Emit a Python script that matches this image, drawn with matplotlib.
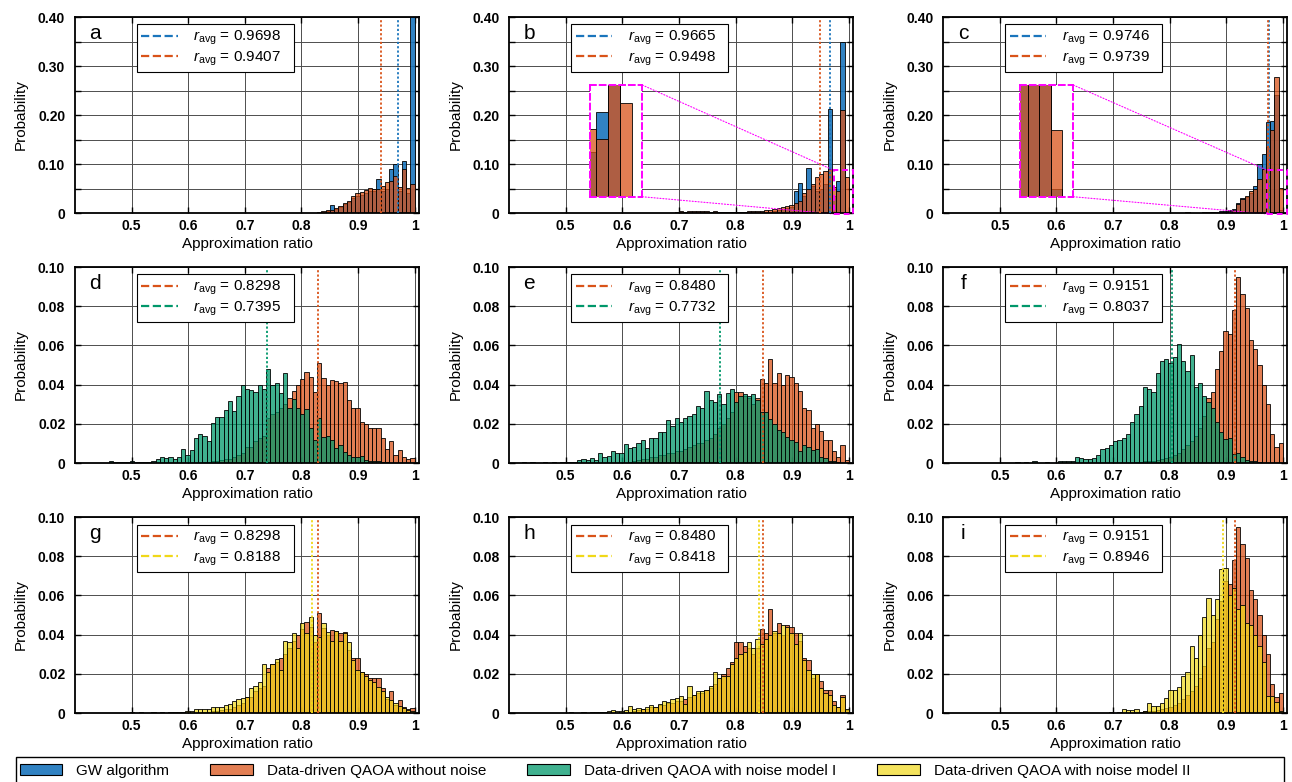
import numpy as np
import matplotlib
matplotlib.use("Agg")
import matplotlib.pyplot as plt
from matplotlib.colors import to_rgba
from matplotlib.lines import Line2D
from matplotlib.patches import Patch, Rectangle, ConnectionPatch
from matplotlib.ticker import FuncFormatter

plt.rcParams["font.family"] = ["Liberation Sans", "DejaVu Sans"]
plt.rcParams["mathtext.fontset"] = "custom"
plt.rcParams["mathtext.rm"] = "Liberation Sans"
plt.rcParams["mathtext.it"] = "Liberation Sans:italic"
plt.rcParams["mathtext.bf"] = "Liberation Sans:bold"

# 80 bins of width 0.0075 on [0.4, 1.0]
bin_edges = np.linspace(0.4, 1.0, 81)
bin_w = bin_edges[1] - bin_edges[0]

# ---- probabilities per bin ----
# a: GW vs noiseless QAOA
gw_a = [0] * 56 + [0.0005, 0.001, 0.002, 0.004, 0.017, 0.008, 0.012, 0.018, 0.022, 0.03,
                   0.034, 0.036, 0.04, 0.045, 0.045, 0.069, 0.045, 0.05, 0.09, 0.10,
                   0.045, 0.107, 0.04, 0.45]
qaoa_a = [0] * 55 + [0.0007, 0.001, 0.002, 0.004, 0.006, 0.007, 0.01, 0.014, 0.021, 0.025,
                     0.035, 0.040, 0.042, 0.048, 0.051, 0.050, 0.050, 0.055, 0.063, 0.065,
                     0.0755, 0.053, 0.09, 0.052, 0.06]
# b
gw_b = [0] * 40 + [0.002, 0.002, 0.003, 0.003, 0.002, 0.003, 0.003, 0.002, 0.003, 0.002,
                   0.002, 0.002, 0.002, 0.002, 0.002, 0.002, 0.003, 0.003, 0.003, 0.003,
                   0.002, 0.003, 0.004, 0.006, 0.008, 0.01, 0.012, 0.045, 0.062, 0.035,
                   0.092, 0.055, 0.045, 0.05, 0.06, 0.213, 0.035, 0.066, 0.35, 0.0]
qaoa_b = [0] * 39 + [0.002, 0.004, 0.003, 0.004, 0.005, 0.004, 0.005, 0.004, 0.003, 0.004,
                     0.003, 0.002, 0.003, 0.003, 0.002, 0.003, 0.003, 0.004, 0.004, 0.005,
                     0.005, 0.006, 0.007, 0.008, 0.01, 0.012, 0.014, 0.016, 0.02, 0.025,
                     0.04, 0.05, 0.06, 0.073, 0.08, 0.086, 0.09, 0.053, 0.045, 0.21,
                     0.073]
# c
gw_c = [0] * 60 + [0.001, 0.0, 0.0, 0.002, 0.0, 0.004, 0.004, 0.006, 0.008, 0.02,
                   0.03, 0.033, 0.04, 0.055, 0.10, 0.12, 0.185, 0.187, 0.24, 0.006]
qaoa_c = [0] * 49 + [0.0008, 0, 0, 0, 0, 0, 0, 0, 0.002, 0, 0, 0,
                     0.002, 0.002, 0.003, 0.002, 0.003, 0.003, 0.005, 0.007, 0.018, 0.028,
                     0.035, 0.045, 0.05, 0.07, 0.09, 0.135, 0.17, 0.278, 0.052]

# noiseless data-driven QAOA (shared by rows 2 and 3)
noiseless_1 = [0] * 30 + [0.0005, 0.0005, 0.001, 0.001, 0.0015, 0.002, 0.002, 0.003,
                          0.004, 0.005, 0.008, 0.008, 0.011, 0.013, 0.014, 0.023, 0.025, 0.026,
                          0.028, 0.030, 0.033, 0.037, 0.040, 0.0427, 0.0466, 0.044, 0.036, 0.0508,
                          0.0435, 0.040, 0.0423, 0.042, 0.041, 0.0415, 0.032, 0.028, 0.028, 0.021,
                          0.020, 0.018, 0.018, 0.018, 0.0126, 0.007, 0.011, 0.004, 0.0066, 0.003,
                          0.002, 0.0024]
noiseless_2 = [0] * 28 + [0.0005, 0.001, 0.0015, 0.002, 0.002, 0.003, 0.003, 0.004, 0.004, 0.005,
                          0.005, 0.006, 0.006, 0.007, 0.008, 0.009, 0.01, 0.01, 0.012, 0.013,
                          0.015, 0.018, 0.02, 0.023, 0.026, 0.036, 0.036, 0.034, 0.033, 0.03,
                          0.033, 0.043, 0.041, 0.053, 0.041, 0.046, 0.040, 0.045, 0.044, 0.041,
                          0.037, 0.028, 0.027, 0.018, 0.020, 0.0165, 0.012, 0.012, 0.006, 0.003,
                          0.009, 0.0015]
noiseless_3 = [0] * 45 + [0.0003, 0.0005, 0.0008, 0.001, 0.0012, 0.0015, 0.002, 0.0025, 0.003, 0.004,
                          0.005, 0.007, 0.009, 0.011, 0.014, 0.018, 0.024, 0.033, 0.036, 0.048,
                          0.057, 0.0675, 0.066, 0.078, 0.095, 0.086, 0.079, 0.063, 0.058, 0.050,
                          0.040, 0.030, 0.015, 0.008, 0.010]

# noise model I
noise1_d = [0] * 8 + [0.001, 0.0003, 0.0005, 0.0003, 0.0005, 0.0012, 0.0005, 0.0005, 0.0005, 0.0005,
                      0.001, 0.002, 0.003, 0.0025, 0.003, 0.002, 0.003, 0.007, 0.004, 0.0066,
                      0.013, 0.0146, 0.0138, 0.011, 0.0206, 0.0233, 0.0233, 0.027, 0.0318, 0.0267,
                      0.034, 0.0398, 0.0376, 0.0372, 0.036, 0.040, 0.038, 0.048, 0.0398, 0.0406,
                      0.0355, 0.0457, 0.028, 0.0325, 0.028, 0.025, 0.0275, 0.018, 0.0117, 0.0228,
                      0.0134, 0.0138, 0.0117, 0.0075, 0.009, 0.0058, 0.004, 0.003, 0.003, 0.0035,
                      0.0015, 0.0012, 0.001, 0.0008, 0.0005, 0.0003, 0, 0, 0, 0, 0, 0]
noise1_e = [0] * 3 + [0.0003, 0, 0.0003, 0, 0, 0.0003, 0,
                      0.0003, 0, 0.0003, 0.0005, 0.0003, 0.0005, 0.0015, 0.002, 0.0015, 0.0025,
                      0.0015, 0.005, 0.003, 0.0035, 0.006, 0.005, 0.005, 0.0095, 0.0075, 0.008,
                      0.01, 0.012, 0.0075, 0.013, 0.013, 0.016, 0.016, 0.022, 0.019, 0.023,
                      0.021, 0.023, 0.024, 0.025, 0.029, 0.028, 0.037, 0.032, 0.031, 0.035,
                      0.030, 0.0355, 0.038, 0.031, 0.034, 0.035, 0.034, 0.035, 0.032, 0.026,
                      0.026, 0.0225, 0.02, 0.017, 0.016, 0.0135, 0.012, 0.0105, 0.006, 0.009,
                      0.008, 0.0065, 0.007, 0.003, 0.0025, 0.0012, 0.001, 0.0005, 0, 0]
noise1_f = [0] * 17 + [0.0003, 0, 0.0003, 0, 0.001, 0, 0, 0.0005, 0, 0,
                       0.0008, 0.0008, 0.001, 0.0012, 0.003, 0.0025, 0.002, 0.002, 0.0025, 0.004,
                       0.007, 0.0075, 0.009, 0.011, 0.012, 0.013, 0.015, 0.021, 0.025, 0.029,
                       0.039, 0.038, 0.036, 0.046, 0.052, 0.053, 0.051, 0.054, 0.0605, 0.052,
                       0.047, 0.055, 0.039, 0.041, 0.034, 0.031, 0.028, 0.021, 0.016, 0.0125,
                       0.013, 0.0045, 0.005, 0.003, 0.0015, 0.001, 0.0012, 0.0003, 0, 0,
                       0, 0, 0]

# noise model II
noise2_g = [0] * 13 + [0.0005, 0, 0.0003, 0, 0, 0.0005, 0.0002, 0.0005, 0.0002, 0.0005,
                       0.0003, 0.0003, 0.0005, 0.0008, 0.001, 0.002, 0.002, 0.002, 0.002, 0.003,
                       0.003, 0.003, 0.004, 0.0045, 0.006, 0.0073, 0.0078, 0.0083, 0.0126, 0.014,
                       0.016, 0.025, 0.021, 0.025, 0.0274, 0.022, 0.037, 0.036, 0.0406, 0.033,
                       0.046, 0.041, 0.049, 0.040, 0.039, 0.046, 0.0415, 0.037, 0.042, 0.037,
                       0.041, 0.036, 0.027, 0.022, 0.021, 0.019, 0.017, 0.016, 0.0134, 0.011,
                       0.0083, 0.0066, 0.005, 0.0036, 0.0024, 0.0015, 0.0012]
noise2_h = [0] * 14 + [0.0005, 0, 0, 0.0003, 0, 0.0005, 0.0003, 0.0005, 0.0003, 0.001,
                       0.0015, 0.001, 0.001, 0.0015, 0.0035, 0.002, 0.0025, 0.002, 0.003, 0.004,
                       0.003, 0.0045, 0.006, 0.0055, 0.007, 0.0075, 0.0085, 0.0045, 0.014, 0.009,
                       0.011, 0.011, 0.012, 0.014, 0.021, 0.018, 0.019, 0.019, 0.025, 0.028,
                       0.030, 0.031, 0.036, 0.033, 0.038, 0.035, 0.038, 0.040, 0.042, 0.041,
                       0.045, 0.044, 0.041, 0.035, 0.041, 0.027, 0.022, 0.020, 0.020, 0.013,
                       0.01, 0.009, 0.004, 0.003, 0.008, 0.002]
noise2_i = [0] * 39 + [0.0005, 0, 0.0005, 0.002, 0.0017, 0.0015, 0.002, 0.0005, 0.001, 0.005,
                       0.0035, 0.0035, 0.005, 0.0075, 0.0115, 0.0115, 0.0135, 0.019, 0.021, 0.034,
                       0.028, 0.040, 0.049, 0.0585, 0.050, 0.058, 0.0735, 0.074, 0.060, 0.064,
                       0.053, 0.055, 0.046, 0.045, 0.040, 0.034, 0.026, 0.0085, 0.0085, 0.0055,
                       0.001]

# average approximation ratios
r_gw = [0.9698, 0.9665, 0.9746]
r_noiseless_top = [0.9407, 0.9498, 0.9739]
r_noiseless = [0.8298, 0.8480, 0.9151]
r_noise1 = [0.7395, 0.7732, 0.8037]
r_noise2 = [0.8188, 0.8418, 0.8946]

letters = ["a", "b", "c", "d", "e", "f", "g", "h", "i"]
series_names = ["GW algorithm", "Data-driven QAOA without noise",
                "Data-driven QAOA with noise model I", "Data-driven QAOA with noise model II"]

BLUE, ORANGE, GREEN, YELLOW = "#1a75bc", "#d95319", "#00976a", "#f0d818"
ALPHA = {BLUE: 0.9, ORANGE: 0.75, GREEN: 0.75, YELLOW: 0.7}
MAGENTA = "#ff00ff"


def bars(ax, vals, color):
    ax.bar(bin_edges[:-1], vals, width=bin_w, align="edge",
           color=to_rgba(color, ALPHA[color]), edgecolor=(0, 0, 0, 0.85), linewidth=0.7)


def prob_formatter(step):
    def fmt(v, pos):
        if abs(v) < 1e-9:
            return "0"
        if abs(v / step - round(v / step)) < 1e-6:
            return f"{v:.2f}"
        return ""
    return FuncFormatter(fmt)


def panel(ax, letter, under, over, r_under, r_over, c_under, c_over, top):
    bars(ax, under, c_under)
    bars(ax, over, c_over)
    ax.axvline(r_under, color=c_under, ls=(0, (1.2, 1.2)), lw=1.3, ymax=0.985, zorder=4)
    ax.axvline(r_over, color=c_over, ls=(0, (1.2, 1.2)), lw=1.3, ymax=0.985, zorder=4)

    ax.set_xlim(0.4, 1.008)
    ax.set_xticks([0.5, 0.6, 0.7, 0.8, 0.9, 1.0])
    ax.set_xticklabels(["0.5", "0.6", "0.7", "0.8", "0.9", "1"])
    if top:
        ax.set_ylim(0, 0.4)
        ax.set_yticks(np.arange(0, 0.4001, 0.05))
        ax.yaxis.set_major_formatter(prob_formatter(0.1))
    else:
        ax.set_ylim(0, 0.1)
        ax.set_yticks(np.arange(0, 0.1001, 0.02))
        ax.yaxis.set_major_formatter(prob_formatter(0.02))

    ax.grid(True, color="0.3", linewidth=0.7)
    ax.set_axisbelow(True)
    ax.tick_params(direction="in", length=4, width=1, top=True, right=True,
                   labelsize=10, pad=4)
    ax.tick_params(axis="y", pad=7)
    for lab in ax.get_xticklabels() + ax.get_yticklabels():
        lab.set_fontweight("bold")
    for s in ax.spines.values():
        s.set_linewidth(1.3)
    ax.set_xlabel("Approximation ratio", fontsize=11, labelpad=3)
    ax.set_ylabel("Probability", fontsize=11, labelpad=7)

    ax.text(0.058, 0.915, letter, transform=ax.transAxes, fontsize=15,
            ha="center", va="center")
    handles = [Line2D([], [], color=c_under, ls="--", lw=1.6),
               Line2D([], [], color=c_over, ls="--", lw=1.6)]
    labels = [rf"$r_{{\mathrm{{avg}}}}$ = {r_under:.4f}",
              rf"$r_{{\mathrm{{avg}}}}$ = {r_over:.4f}"]
    leg = ax.legend(handles, labels, loc="upper left", bbox_to_anchor=(0.18, 0.962, 0.455, 0),
                    mode="expand", borderaxespad=0, fontsize=11, handlelength=2.4,
                    handletextpad=1.0, borderpad=0.3, labelspacing=0.12, fancybox=False,
                    framealpha=1, edgecolor="k")
    leg.get_frame().set_linewidth(0.8)


def zoom_inset(ax, rect, under, over, c_under, c_over, x0, x1, y1):
    ins = ax.inset_axes(rect)
    bars(ins, under, c_under)
    bars(ins, over, c_over)
    ins.set_xlim(x0, x1)
    ins.set_ylim(0, y1)
    ins.set_xticks([])
    ins.set_yticks([])
    for s in ins.spines.values():
        s.set_edgecolor(MAGENTA)
        s.set_linestyle((0, (3, 2)))
        s.set_linewidth(1.4)
    ax.add_patch(Rectangle((x0, -0.002), x1 - x0, y1 + 0.002, fill=False, ec=MAGENTA,
                           ls=(0, (3, 2)), lw=1.4, clip_on=False, zorder=6))
    for ya, yb in [(1, y1), (0, -0.002)]:
        con = ConnectionPatch(xyA=(1, ya), coordsA=ins.transAxes, xyB=(x0, yb),
                              coordsB=ax.transData, color=MAGENTA, ls=":", lw=0.8)
        ax.add_artist(con)


fig = plt.figure(figsize=(12.92, 7.82), dpi=100)
lefts = [0.058, 0.394, 0.730]
bottoms = [0.7276, 0.4079, 0.0882]
W, H = 0.2665, 0.2506
axes = [[fig.add_axes([l, b, W, H]) for l in lefts] for b in bottoms]

top_gw = [gw_a, gw_b, gw_c]
top_qaoa = [qaoa_a, qaoa_b, qaoa_c]
noiseless = [noiseless_1, noiseless_2, noiseless_3]
noise1 = [noise1_d, noise1_e, noise1_f]
noise2 = [noise2_g, noise2_h, noise2_i]

for j in range(3):
    panel(axes[0][j], letters[j], top_gw[j], top_qaoa[j], r_gw[j], r_noiseless_top[j],
          BLUE, ORANGE, True)
    panel(axes[1][j], letters[3 + j], noiseless[j], noise1[j], r_noiseless[j], r_noise1[j],
          ORANGE, GREEN, False)
    panel(axes[2][j], letters[6 + j], noiseless[j], noise2[j], r_noiseless[j], r_noise2[j],
          ORANGE, YELLOW, False)

zoom_inset(axes[0][1], [0.235, 0.083, 0.152, 0.57], gw_b, qaoa_b, BLUE, ORANGE,
           0.974, 1.0065, 0.087)
zoom_inset(axes[0][2], [0.223, 0.083, 0.155, 0.57], gw_c, qaoa_c, BLUE, ORANGE,
           0.9725, 1.007, 0.087)

# shared legend along the bottom edge
fig.add_artist(Rectangle((0.012, -0.02), 0.982, 0.052, transform=fig.transFigure,
                         fill=False, ec="k", lw=1.0))
patches = [Patch(facecolor=to_rgba(c, ALPHA[c]), edgecolor="k", linewidth=0.8)
           for c in (BLUE, ORANGE, GREEN, YELLOW)]
fig.legend(patches, series_names, loc="center left", bbox_to_anchor=(0.008, 0.014),
           ncol=4, frameon=False, fontsize=11, handlelength=2.8, handleheight=0.7,
           handletextpad=0.9, columnspacing=2.7, borderpad=0.1)

fig.savefig("out.png", dpi=100)
